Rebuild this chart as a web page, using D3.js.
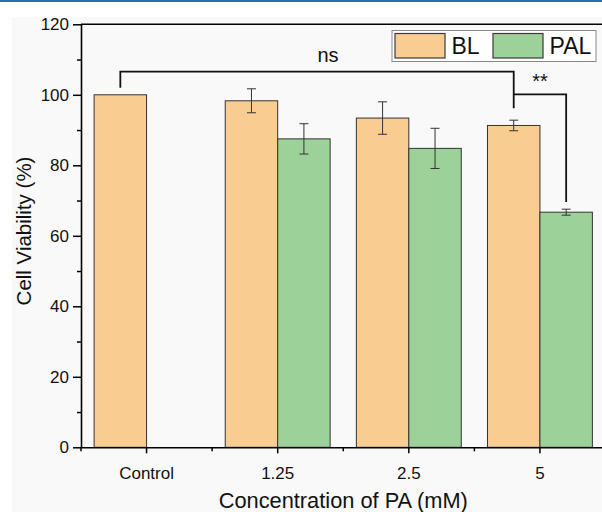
<!DOCTYPE html>
<html>
<head>
<meta charset="utf-8">
<script src="https://cdn.jsdelivr.net/npm/d3@7"></script>
<style>
  body { margin: 0; background: #fff; }
  svg { display: block; font-family: "Liberation Sans", Arial, sans-serif; }
</style>
</head>
<body>
<div id="chart"></div>
<script>
var categories = ['Control', '1.25', '2.5', '5'];
var series = ['BL', 'PAL'];
var blValues = [100, 98.3, 93.4, 91.3];
var blErrors = [0, 3.4, 4.6, 1.5];
var palValues = [null, 87.5, 84.8, 66.7];
var palErrors = [0, 4.3, 5.7, 0.85];
var yTicks = [0, 20, 40, 60, 80, 100, 120];
var colors = {BL: '#f9cd91', PAL: '#9dd19a'};

// significance brackets: [fromCat, fromSeries, toCat, toSeries, level, leftEnd, rightEnd, label]
var brackets = [
    ['Control', 'BL', '5', 'BL', 106.6, 102, 96.2, 'ns'],
    ['5', 'BL', '5', 'PAL', 100.1, null, 69.6, '**']
];

var width = 602;
var height = 512;

var svg = d3.select('#chart')
    .append('svg')
    .attr('width', width)
    .attr('height', height);

// page strip and panel background
svg.append('rect').attr('x', 0).attr('y', 0).attr('width', width).attr('height', 2).attr('fill', '#1f72b8');
svg.append('rect').attr('x', 12).attr('y', 17).attr('width', width - 12).attr('height', height - 17).attr('fill', '#f9f9f9');

var mLeft = 81, mRight = 605.5, mTop = 24.3, mBottom = 447.3;

var x0 = d3.scaleBand().domain(categories).range([mLeft, mRight]).padding(0);
var bw = x0.bandwidth();
var x1 = d3.scaleBand().domain(series).range([0.1 * bw, 0.9 * bw]).padding(0);
var y = d3.scaleLinear().domain([0, 120]).range([mBottom, mTop]);

function cx(cat, s) { return x0(cat) + x1(s) + x1.bandwidth() / 2; }

var rows = [];
categories.forEach(function (c, i) {
    rows.push({cat: c, s: 'BL', v: blValues[i], e: blErrors[i]});
    if (palValues[i] != null) rows.push({cat: c, s: 'PAL', v: palValues[i], e: palErrors[i]});
});

svg.selectAll('rect.bar')
    .data(rows)
    .enter()
    .append('rect')
    .attr('class', 'bar')
    .attr('x', function (d) { return x0(d.cat) + x1(d.s); })
    .attr('y', function (d) { return y(d.v); })
    .attr('width', x1.bandwidth())
    .attr('height', function (d) { return y(0) - y(d.v); })
    .attr('fill', function (d) { return colors[d.s]; })
    .attr('stroke', '#333')
    .attr('stroke-width', 1);

// error bars
var err = svg.selectAll('g.err')
    .data(rows.filter(function (d) { return d.e > 0; }))
    .enter()
    .append('g')
    .attr('stroke', '#333')
    .attr('stroke-width', 1);
err.append('line')
    .attr('x1', function (d) { return cx(d.cat, d.s); })
    .attr('x2', function (d) { return cx(d.cat, d.s); })
    .attr('y1', function (d) { return y(d.v + d.e); })
    .attr('y2', function (d) { return y(d.v - d.e); });
[1, -1].forEach(function (sgn) {
    err.append('line')
        .attr('x1', function (d) { return cx(d.cat, d.s) - 4.5; })
        .attr('x2', function (d) { return cx(d.cat, d.s) + 4.5; })
        .attr('y1', function (d) { return y(d.v + sgn * d.e); })
        .attr('y2', function (d) { return y(d.v + sgn * d.e); });
});

// axes
var yAxis = svg.append('g').attr('transform', 'translate(' + mLeft + ',0)')
    .call(d3.axisLeft(y).tickValues(yTicks).tickSize(8).tickSizeOuter(0));
svg.append('g').attr('transform', 'translate(' + mLeft + ',0)')
    .call(d3.axisLeft(y).tickValues(d3.range(10, 120, 20)).tickSize(4).tickFormat(''))
    .select('.domain').remove();
yAxis.selectAll('text').attr('font-size', 17).attr('fill', '#111').attr('x', -12);

var xAxis = svg.append('g').attr('transform', 'translate(0,' + mBottom + ')')
    .call(d3.axisBottom(x0).tickSize(6).tickSizeOuter(0));
xAxis.selectAll('text').attr('font-size', 17).attr('fill', '#111').attr('dy', '1.35em');
svg.append('g').attr('transform', 'translate(0,' + mBottom + ')')
    .selectAll('line')
    .data(categories)
    .enter()
    .append('line')
    .attr('x1', function (d) { return x0(d); })
    .attr('x2', function (d) { return x0(d); })
    .attr('y1', 0).attr('y2', 4)
    .attr('stroke', '#000').attr('stroke-width', 1.5);

svg.selectAll('.domain').attr('stroke', '#000').attr('stroke-width', 1.6);
svg.selectAll('.tick line').attr('stroke', '#000').attr('stroke-width', 1.5);

// top frame
svg.append('line').attr('x1', mLeft).attr('x2', mRight).attr('y1', mTop).attr('y2', mTop)
    .attr('stroke', '#000').attr('stroke-width', 1.6);
svg.append('line').attr('x1', mRight).attr('x2', mRight).attr('y1', mTop).attr('y2', mBottom)
    .attr('stroke', '#000').attr('stroke-width', 1.6);

// titles
svg.append('text')
    .attr('transform', 'translate(31,231) rotate(-90)')
    .attr('text-anchor', 'middle')
    .attr('font-size', 20.5)
    .attr('fill', '#111')
    .text('Cell Viability (%)');
svg.append('text')
    .attr('x', (mLeft + mRight) / 2)
    .attr('y', 508)
    .attr('text-anchor', 'middle')
    .attr('font-size', 21.8)
    .attr('fill', '#111')
    .text('Concentration of PA (mM)');

// brackets
brackets.forEach(function (b) {
    var xa = cx(b[0], b[1]), xb = cx(b[2], b[3]);
    var p = d3.path();
    if (b[5] != null) { p.moveTo(xa, y(b[5])); p.lineTo(xa, y(b[4])); } else { p.moveTo(xa, y(b[4])); }
    p.lineTo(xb, y(b[4]));
    p.lineTo(xb, y(b[6]));
    svg.append('path').attr('d', p.toString()).attr('fill', 'none')
        .attr('stroke', '#111').attr('stroke-width', 1.8);
    svg.append('text')
        .attr('x', b[7] == 'ns' ? 328 : (xa + xb) / 2)
        .attr('y', b[7] == 'ns' ? y(b[4]) - 9.5 : y(b[4]) - 6)
        .attr('text-anchor', 'middle')
        .attr('font-size', 20)
        .attr('fill', '#111')
        .text(b[7]);
});

// legend
var lg = svg.append('g');
lg.append('rect').attr('x', 392).attr('y', 30.5).attr('width', 204).attr('height', 31)
    .attr('fill', '#fff').attr('stroke', '#888').attr('stroke-width', 1);
series.forEach(function (s, i) {
    var gx = 395 + i * 98;
    lg.append('rect').attr('x', gx).attr('y', 33.5).attr('width', 50).attr('height', 24.5)
        .attr('fill', colors[s]).attr('stroke', '#3a3a3a').attr('stroke-width', 1.2);
    lg.append('text').attr('x', gx + 56.5).attr('y', 54).attr('font-size', 23)
        .attr('fill', '#111').text(s);
});
</script>
</body>
</html>
